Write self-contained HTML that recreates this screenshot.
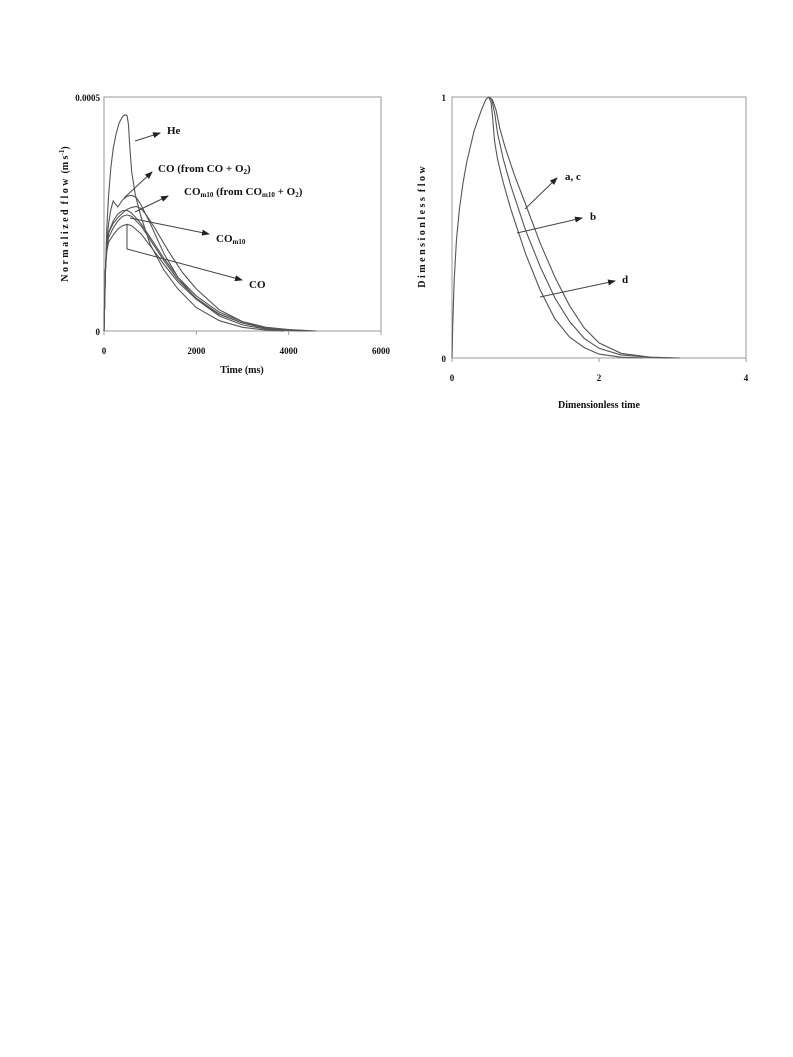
<!DOCTYPE html>
<html><head><meta charset="utf-8">
<style>
body{margin:0;background:#fff;}
svg{display:block;font-family:"Liberation Serif",serif;font-weight:bold;}
</style></head>
<body>
<svg width="793" height="1057" viewBox="0 0 793 1057">
<defs><marker id="ah" markerWidth="8" markerHeight="6" refX="7" refY="3" orient="auto"><path d="M0,0 L8,3 L0,6 Z" fill="#222"/></marker></defs>
<g id="left"></g>
<g id="right"></g>
</svg>
<script>
// Left chart data (x in ms, y in 1e-4 m/s)
const heX=[0,30,60,100,150,200,260,330,400,450,500,530,560,600,680,800,1000,1300,1600,2000,2500,3000,3500,3900];
const heY=[0,1.2,2.2,2.9,3.5,3.9,4.2,4.45,4.58,4.62,4.6,4.4,3.9,3.4,2.9,2.45,1.85,1.3,0.9,0.5,0.22,0.08,0.02,0];
const coO2X=[0,30,60,100,150,200,240,300,400,500,600,700,800,1000,1300,1600,2000,2500,3000,3500,4000,4300];
const coO2Y=[0,1.3,1.9,2.3,2.6,2.78,2.72,2.65,2.8,2.88,2.9,2.85,2.7,2.3,1.65,1.15,0.68,0.32,0.13,0.04,0.01,0];
const cmO2X=[0,30,60,100,200,300,400,500,600,700,800,900,1100,1400,1700,2000,2500,3000,3500,4000,4500];
const cmO2Y=[0,1.3,1.8,2.1,2.3,2.42,2.52,2.6,2.64,2.66,2.62,2.5,2.2,1.7,1.25,0.9,0.45,0.2,0.08,0.025,0];
const cm10X=[0,30,60,100,200,300,400,500,600,800,1000,1300,1600,2000,2500,3000,3500,4000,4600];
const cm10Y=[0,1.3,1.8,2.1,2.35,2.5,2.57,2.58,2.52,2.3,2.0,1.55,1.15,0.75,0.4,0.2,0.08,0.03,0];
const mixX=[0,30,60,100,200,300,400,500,600,800,1000,1300,1600,2000,2500,3000,3500,4000,4400];
const mixY=[0,1.3,1.75,2.0,2.2,2.35,2.45,2.48,2.45,2.25,1.95,1.5,1.1,0.7,0.36,0.17,0.06,0.02,0];
const coX=[0,30,60,100,200,300,400,500,600,800,1000,1300,1600,2000,2500,3000,3500,4000,4300];
const coY=[0,1.3,1.7,1.9,2.05,2.18,2.25,2.28,2.25,2.08,1.82,1.42,1.05,0.68,0.36,0.17,0.06,0.02,0];
const leftXTicks=[0,2000,4000,6000];
const leftXLabels=["0","2000","4000","6000"];
// Right chart data
const riseX=[0,0.01,0.03,0.06,0.1,0.15,0.2,0.3,0.4,0.46,0.5];
const riseY=[0,0.12,0.3,0.45,0.57,0.67,0.75,0.87,0.95,0.99,1];
const dX=[0.5,0.53,0.55,0.58,0.62,0.7,0.8,1.0,1.2,1.4,1.6,1.8,2.0,2.3,2.6];
const dY=[1,0.98,0.93,0.83,0.76,0.67,0.57,0.4,0.26,0.15,0.08,0.04,0.015,0.003,0];
const bX=[0.5,0.54,0.58,0.62,0.7,0.8,1.0,1.2,1.4,1.6,1.8,2.0,2.3,2.7,3.0];
const bY=[1,0.99,0.94,0.86,0.76,0.66,0.49,0.35,0.23,0.14,0.075,0.037,0.012,0.002,0];
const acX=[0.5,0.55,0.6,0.65,0.72,0.85,1.0,1.2,1.4,1.6,1.8,2.0,2.3,2.7,3.1];
const acY=[1,0.99,0.95,0.88,0.81,0.7,0.59,0.44,0.31,0.2,0.115,0.058,0.018,0.003,0];
const rightXTicks=[0,2,4];
const rightXLabels=["0","2","4"];

const NS="http://www.w3.org/2000/svg";
function mk(p,t,a){const e=document.createElementNS(NS,t);for(const k in a)e.setAttribute(k,a[k]);p.appendChild(e);return e;}
function txt(p,x,y,s,size,anchor,name){const e=mk(p,'text',{x:x,y:y,'font-size':size,'text-anchor':anchor||'start',fill:'#111'});e.innerHTML=s;


return e;}
function line(p,xs,ys,sx,sy,name){let d='';xs.forEach((x,i)=>{d+=(i?'L':'M')+sx(x).toFixed(1)+','+sy(ys[i]).toFixed(1);});
const e=mk(p,'path',{d:d,fill:'none',stroke:'#555','stroke-width':1.1});

}
function arrow(p,pts,name){const e=mk(p,'polyline',{points:pts,fill:'none',stroke:'#444','stroke-width':1,'marker-end':'url(#ah)'});

}

// LEFT
const L=document.getElementById('left');
const lx=v=>104+v/6000*277, ly=v=>331-v/5*234;
const fr=mk(L,'rect',{x:104,y:97,width:277,height:234,fill:'none',stroke:'#999','stroke-width':1});


leftXTicks.forEach((t,i)=>{mk(L,'line',{x1:lx(t),x2:lx(t),y1:331,y2:335,stroke:'#999'});txt(L,lx(t),354,leftXLabels[i],9,'middle','x-tick-label');});
txt(L,100,101,'0.0005',9,'end','y-tick-max');txt(L,100,335,'0',9,'end','y-tick-zero');
txt(L,242,373,'Time (ms)',10,'middle','x-axis-title');
const yt=txt(L,0,0,'N o r m a l i z e d &#160;f l o w &#160;(m s<tspan font-size="7" dy="-4">-1</tspan><tspan dy="4">)</tspan>',10,'middle','y-axis-title');
yt.setAttribute('transform','translate(68,214) rotate(-90)');
line(L,heX,heY,lx,ly,'series-he');
line(L,coO2X,coO2Y,lx,ly,'series-co-from-co-o2');
line(L,cmO2X,cmO2Y,lx,ly,'series-com10-from-com10-o2');
line(L,cm10X,cm10Y,lx,ly,'series-com10');
line(L,mixX,mixY,lx,ly,'series-extra');
line(L,coX,coY,lx,ly,'series-co');
arrow(L,'135,141 160,133','arrow-he');
arrow(L,'124,198 152,172','arrow-co-o2');
arrow(L,'135,212 168,196','arrow-com10-o2');
arrow(L,'130,218 209,234','arrow-com10');
arrow(L,'127,225 127,249 242,280','arrow-co');
txt(L,167,134,'He',11,'start','label-he');
txt(L,158,172,'CO (from CO + O<tspan font-size="7" dy="2">2</tspan><tspan dy="-2">)</tspan>',11,'start','label-co-o2');
txt(L,184,195,'CO<tspan font-size="7" dy="2">m10</tspan><tspan dy="-2"> (from CO</tspan><tspan font-size="7" dy="2">m10</tspan><tspan dy="-2"> + O</tspan><tspan font-size="7" dy="2">2</tspan><tspan dy="-2">)</tspan>',11,'start','label-com10-o2');
txt(L,216,242,'CO<tspan font-size="7" dy="2">m10</tspan>',11,'start','label-com10');
txt(L,249,288,'CO',11,'start','label-co');

// RIGHT
const R=document.getElementById('right');
const rx=v=>452+v/4*294, ry=v=>358-v*261;
const fr2=mk(R,'rect',{x:452,y:97,width:294,height:261,fill:'none',stroke:'#999','stroke-width':1});


rightXTicks.forEach((t,i)=>{mk(R,'line',{x1:rx(t),x2:rx(t),y1:358,y2:362,stroke:'#999'});txt(R,rx(t),381,rightXLabels[i],9,'middle','x-tick-label');});
txt(R,446,101,'1',9,'end','y-tick-one');txt(R,446,362,'0',9,'end','y-tick-zero');
txt(R,599,408,'Dimensionless time',10,'middle','x-axis-title');
const yt2=txt(R,0,0,'D i m e n s i o n l e s s &#160;f l o w',10,'middle','y-axis-title');
yt2.setAttribute('transform','translate(425,227) rotate(-90)');
line(R,riseX,riseY,rx,ry,'series-rise');
line(R,dX,dY,rx,ry,'series-d');
line(R,bX,bY,rx,ry,'series-b');
line(R,acX,acY,rx,ry,'series-a-c');
arrow(R,'525,209 557,178','arrow-a-c');
arrow(R,'517,233 582,218','arrow-b');
arrow(R,'540,297 615,281','arrow-d');
txt(R,565,180,'a, c',11,'start','label-a-c');
txt(R,590,220,'b',11,'start','label-b');
txt(R,622,283,'d',11,'start','label-d');
</script>
</body></html>
